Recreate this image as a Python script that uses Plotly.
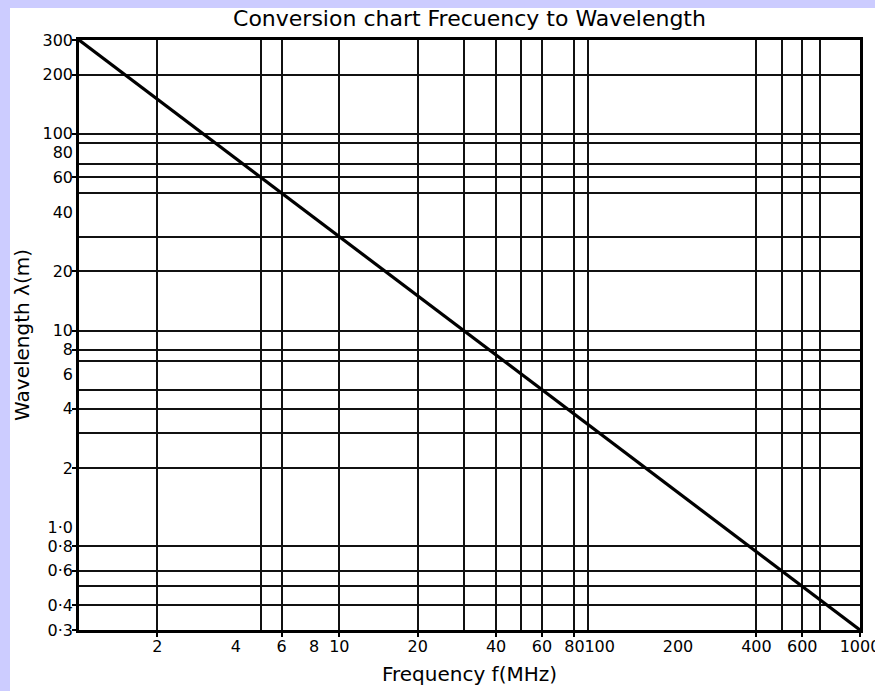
import plotly.graph_objects as go
import math

# Data
freq_mhz = [1, 2, 5, 10, 20, 50, 100, 200, 500, 1000]
wavelength_m = [300, 150, 60, 30, 15, 6, 3, 1.5, 0.6, 0.3]

x_label_vals = [2, 4, 6, 8, 10, 20, 40, 60, 80, 100, 200, 400, 600, 1000]
x_label_text = ["2", "4", "6", "8", "10", "20", "40", "60", "80", "100", "200", "400", "600", "1000"]
x_tick_marks = [2, 6, 10, 20, 40, 60, 80, 400, 600, 1000]
x_grid_vals = [2, 5, 6, 10, 20, 30, 40, 50, 60, 80, 90, 400, 500, 600, 700]

y_label_vals = [300, 200, 100, 80, 60, 40, 20, 10, 8, 6, 4, 2, 1.0, 0.8, 0.6, 0.4, 0.3]
y_label_text = ["300", "200", "100", "80", "60", "40", "20", "10", "8", "6", "4", "2",
                "1·0", "0·8", "0·6", "0·4", "0·3"]
y_tick_marks = [300, 200, 100, 60, 20, 10, 8, 4, 2, 0.8, 0.6, 0.4, 0.3]
y_grid_vals = [200, 100, 90, 70, 60, 50, 30, 20, 10, 8, 7, 5, 4, 3, 2, 0.8, 0.6, 0.5, 0.4]

FONT = "DejaVu Sans"
xr = [math.log10(1), math.log10(1000)]
yr = [math.log10(0.3), math.log10(300)]

fig = go.Figure()
fig.add_trace(go.Scatter(x=freq_mhz, y=wavelength_m, mode="lines",
                         line=dict(color="black", width=3.2), showlegend=False,
                         hoverinfo="skip"))
# invisible trace to anchor overlay axes
fig.add_trace(go.Scatter(x=freq_mhz, y=wavelength_m, mode="lines", xaxis="x2", yaxis="y2",
                         line=dict(color="rgba(0,0,0,0)", width=0), showlegend=False,
                         hoverinfo="skip"))

W, H = 875, 691
ml, mr, mt, mb = 79, 15, 40, 61
pw, ph = W - ml - mr, H - mt - mb

fig.update_layout(
    width=W, height=H,
    margin=dict(l=ml, r=mr, t=mt, b=mb),
    paper_bgcolor="#ccccff",
    plot_bgcolor="white",
    font=dict(family=FONT, color="black", size=16),
    title=dict(text="Conversion chart Frecuency to Wavelength", x=0.5, xref="paper",
               xanchor="center", y=1 - 18 / H, yanchor="middle",
               font=dict(family=FONT, size=22, color="black")),
    xaxis=dict(type="log", range=xr, tickmode="array", tickvals=x_label_vals,
               ticktext=x_label_text, ticks="", showgrid=False, zeroline=False,
               showline=True, linecolor="black", linewidth=2.5, mirror=True,
               tickfont=dict(size=16), tickangle=0, automargin=False,
               ticklabeloverflow="allow",
               minor=dict(tickmode="array", tickvals=x_grid_vals, showgrid=True,
                          gridcolor="#111111", gridwidth=1.5, ticks=""),
               title=dict(text="Frequency f(MHz)", font=dict(size=20), standoff=13)),
    yaxis=dict(type="log", range=yr, tickmode="array", tickvals=y_label_vals,
               ticktext=y_label_text, ticks="", showgrid=False, zeroline=False,
               showline=True, linecolor="black", linewidth=2.5, mirror=True,
               tickfont=dict(size=16), automargin=False,
               ticklabeloverflow="allow",
               minor=dict(tickmode="array", tickvals=y_grid_vals, showgrid=True,
                          gridcolor="#111111", gridwidth=1.5, ticks=""),
               title=dict(text="Wavelength λ(m)", font=dict(size=20), standoff=8)),
    xaxis2=dict(type="log", range=xr, overlaying="x", anchor="y", side="bottom",
                tickmode="array", tickvals=x_tick_marks, ticks="outside", ticklen=6,
                tickwidth=1.5, tickcolor="black", showticklabels=False,
                showgrid=False, zeroline=False, showline=False),
    yaxis2=dict(type="log", range=yr, overlaying="y", anchor="x", side="left",
                tickmode="array", tickvals=y_tick_marks, ticks="outside", ticklen=6,
                tickwidth=1.5, tickcolor="black", showticklabels=False,
                showgrid=False, zeroline=False, showline=False),
    shapes=[dict(type="rect", xref="paper", yref="paper", layer="below",
                 x0=(10 - ml) / pw, x1=(W + 5 - ml) / pw,
                 y0=(mt + ph - (H + 5)) / ph, y1=(mt + ph - 8) / ph,
                 fillcolor="white", line=dict(width=0))],
)

fig.write_html("out.html", config={"displayModeBar": False},
               post_script="document.body.style.margin='0';document.body.style.overflow='hidden';")
